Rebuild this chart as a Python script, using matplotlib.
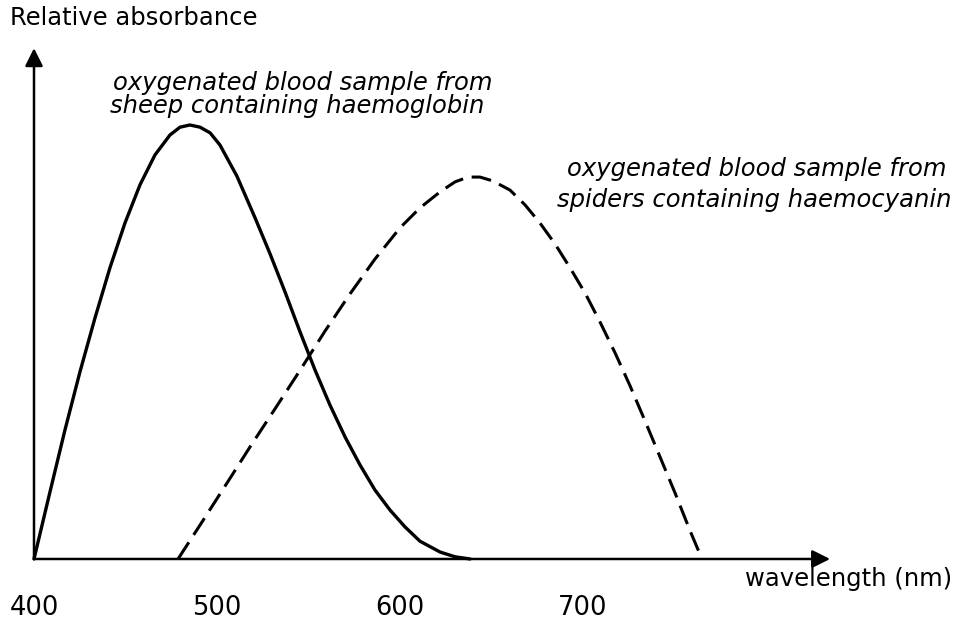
"""Relative absorbance of oxygenated sheep and spider blood against wavelength."""

from __future__ import annotations

import matplotlib

matplotlib.use("Agg")
import matplotlib.pyplot as plt
from matplotlib.transforms import blended_transform_factory

# solid curve: sheep blood (haemoglobin)
SHEEP_NM = [400, 408.7, 416.9, 425.1, 433.3, 441.5, 449.7, 457.9, 466.1, 474.3, 479.8,
            485.2, 490.7, 496.2, 501.6, 510.9, 520.8, 529.0, 537.2, 545.4, 553.6, 561.7,
            570.0, 578.1, 586.3, 594.5, 602.7, 610.9, 621.9, 630.1, 638.3]
SHEEP_ABS = [0.0, 0.154, 0.297, 0.431, 0.555, 0.671, 0.774, 0.862, 0.931, 0.977, 0.995,
             1.0, 0.995, 0.982, 0.954, 0.882, 0.786, 0.703, 0.615, 0.523, 0.435, 0.355,
             0.281, 0.217, 0.159, 0.113, 0.074, 0.041, 0.016, 0.005, 0.0]

# dashed curve: spider blood (haemocyanin)
SPIDER_NM = [478.7, 490.7, 504.4, 518.0, 531.7, 545.4, 559.0, 572.7, 586.3, 600.0, 610.9,
             621.9, 630.1, 637.2, 643.7, 650.8, 660.1, 668.3, 676.5, 684.7, 692.9, 701.1,
             709.3, 717.5, 725.7, 733.9, 742.1, 750.3, 758.5, 765.0]
SPIDER_ABS = [0.0, 0.078, 0.168, 0.258, 0.346, 0.435, 0.525, 0.611, 0.691, 0.763, 0.809,
              0.846, 0.869, 0.880, 0.880, 0.871, 0.850, 0.816, 0.774, 0.726, 0.671, 0.613,
              0.546, 0.475, 0.399, 0.318, 0.235, 0.152, 0.065, 0.0]

TICK_NM = [400, 500, 600, 700]
TICK_LABELS = ["400", "500", "600", "700"]

Y_LABEL = "Relative absorbance"
X_LABEL = "wavelength (nm)"
SHEEP_NOTE = ["oxygenated blood sample from", "sheep containing haemoglobin"]
SPIDER_NOTE = ["oxygenated blood sample from", "spiders containing haemocyanin"]

FONT = "DejaVu Sans"
SIZE = 17.5


def draw_axis_arrow(ax, start, end) -> None:
    """Draw one axis line with a filled arrow head."""

    ax.annotate(
        "",
        xy=end,
        xytext=start,
        arrowprops={"arrowstyle": "-|>", "color": "black", "lw": 1.8,
                    "mutation_scale": 27, "shrinkA": 0, "shrinkB": 0},
    )


def main() -> None:
    fig = plt.figure(figsize=(9.6, 6.23), dpi=100)
    ax = fig.add_axes([0, 0, 1, 1])
    ax.set_xlim(381.42, 906.0)
    ax.set_ylim(-0.1475, 1.288)
    ax.axis("off")

    ax.plot(SHEEP_NM, SHEEP_ABS, color="black", lw=2.4,
            solid_joinstyle="round", solid_capstyle="round")
    ax.plot(SPIDER_NM, SPIDER_ABS, color="black", lw=2.2, linestyle=(0, (6.5, 2.9)))

    draw_axis_arrow(ax, (TICK_NM[0], 0), (TICK_NM[0], 1.177))
    draw_axis_arrow(ax, (TICK_NM[0], 0), (835.0, 0))

    tick_tf = blended_transform_factory(ax.transData, ax.transAxes)
    for nm, label in zip(TICK_NM, TICK_LABELS):
        ax.text(nm, 0.024, label, transform=tick_tf, ha="center", va="center",
                family=FONT, fontsize=18.5)

    fig.text(0.0104, 0.971, Y_LABEL, ha="left", va="center", family=FONT, fontsize=SIZE)
    fig.text(0.776, 0.071, X_LABEL, ha="left", va="center", family=FONT, fontsize=SIZE)

    for (x, y), line in zip([(0.1177, 0.8668), (0.1146, 0.8299)], SHEEP_NOTE):
        fig.text(x, y, line, ha="left", va="center", family=FONT, style="italic", fontsize=SIZE)
    for (x, y), line in zip([(0.5906, 0.7287), (0.5802, 0.679)], SPIDER_NOTE):
        fig.text(x, y, line, ha="left", va="center", family=FONT, style="italic", fontsize=SIZE)

    fig.savefig("out.png", dpi=100, facecolor="white")
    plt.close(fig)


if __name__ == "__main__":
    main()
